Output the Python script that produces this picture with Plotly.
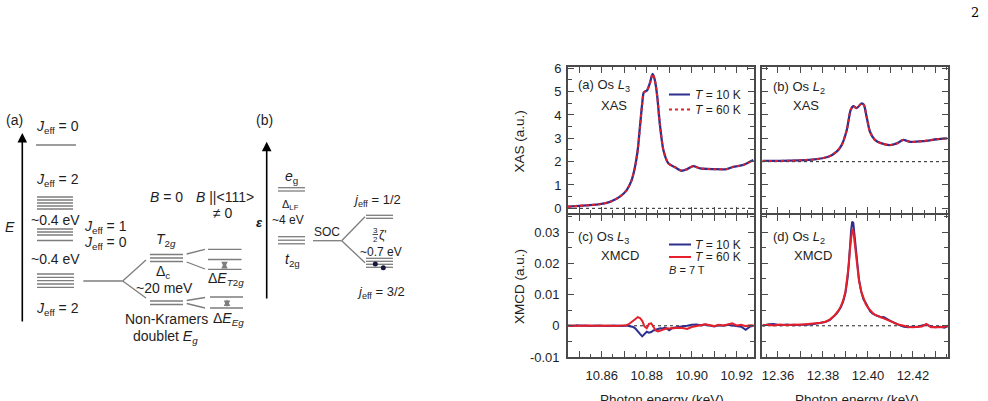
import numpy as np
import plotly.graph_objects as go

W, H = 988, 401
FONT = "Liberation Sans, Arial, Helvetica, sans-serif"
BLUE = "#2c2f8e"
RED = "#e5202a"
AX = "#4a4a4a"
GRAY = "#7d7d7d"
TXT = "#1e1e1e"

# ---------------- XAS data (a.u.) ----------------
e_L3_xas = [10.845, 10.8533, 10.8592, 10.8637, 10.8681, 10.8711, 10.8733, 10.8748, 10.876, 10.877,
            10.878, 10.8787, 10.8795, 10.8802, 10.8814, 10.8826, 10.8836, 10.8847, 10.8858, 10.8874,
            10.8896, 10.8926, 10.8955, 10.8978, 10.9007, 10.9037, 10.9096, 10.9156, 10.9185, 10.923, 10.9274]
xas_L3 = [0.07, 0.13, 0.18, 0.28, 0.5, 0.78, 1.21, 1.78, 2.5, 3.5,
          4.5, 4.97, 5.02, 5.06, 5.36, 5.76, 5.5, 4.78, 3.64, 2.5,
          1.93, 1.76, 1.61, 1.67, 1.81, 1.71, 1.68, 1.68, 1.78, 1.86, 2.07]

e_L2_xas = [12.3532, 12.3653, 12.3772, 12.3824, 12.3861, 12.3883, 12.3906, 12.3923, 12.3935, 12.395,
            12.3972, 12.3982, 12.3994, 12.4009, 12.4031, 12.4061, 12.4098, 12.4128, 12.4157, 12.4187,
            12.4246, 12.4306, 12.4353]
xas_L2 = [2.03, 2.04, 2.11, 2.21, 2.43, 2.71, 3.36, 4.21, 4.38, 4.29,
          4.5, 4.43, 3.93, 3.28, 2.93, 2.78, 2.71, 2.78, 2.93, 2.85,
          2.88, 2.96, 3.0]

# ---------------- XMCD data (units of 1e-3 a.u.) ----------------
e_L3_xmcd = [10.845, 10.847, 10.849, 10.851, 10.853, 10.855, 10.857, 10.859, 10.861, 10.863,
             10.865, 10.867, 10.869, 10.871, 10.872, 10.873, 10.874, 10.875, 10.876, 10.877,
             10.878, 10.879, 10.880, 10.881, 10.882, 10.883, 10.884, 10.885, 10.886, 10.887,
             10.888, 10.889, 10.890, 10.891, 10.892, 10.894, 10.896, 10.898, 10.900, 10.902,
             10.904, 10.906, 10.908, 10.910, 10.912, 10.914, 10.916, 10.918, 10.920, 10.922,
             10.924, 10.926, 10.9275]
xmcd_L3_10K_milli = [0.1, -0.1, 0.2, 0.0, 0.1, -0.1, 0.1, 0.0, 0.1, -0.1,
                     0.1, 0.0, -0.1, 0.1, 0.0, -0.1, -0.4, -0.9, -1.6, -2.6,
                     -3.4, -2.6, -1.9, -2.2, -2.0, -1.5, -1.3, -1.0, -0.8, -0.9,
                     -0.6, -0.9, -1.4, -0.9, -0.6, -0.4, -0.3, 0.0, 0.3, 0.4,
                     0.2, 0.4, 0.1, -0.2, 0.2, 0.0, 0.3, 0.1, 0.0, -0.3,
                     -1.3, -0.2, 0.0]
xmcd_L3_60K_milli = [0.0, 0.1, -0.1, 0.1, 0.0, 0.1, -0.1, 0.1, 0.0, 0.1,
                     -0.1, 0.0, 0.1, 0.2, 0.5, 1.0, 1.6, 2.2, 2.8, 2.5,
                     1.6, -0.2, -0.8, 0.6, 0.8, -0.2, -1.5, -1.8, -1.6, -1.2,
                     -1.0, -0.8, -0.9, -0.7, -0.8, -0.6, -0.7, -1.0, -0.4, 0.0,
                     0.2, 0.5, 0.2, -0.1, 0.3, 0.1, 0.4, 0.8, 0.1, 0.3,
                     -0.1, 0.2, 0.1]

e_L2_xmcd = [12.3532, 12.356, 12.358, 12.361, 12.364, 12.367, 12.370, 12.373, 12.376, 12.379,
             12.381, 12.383, 12.385, 12.386, 12.387, 12.388, 12.389, 12.390, 12.391, 12.3915,
             12.392, 12.3925, 12.393, 12.3935, 12.394, 12.3945, 12.395, 12.3955, 12.396, 12.397,
             12.398, 12.399, 12.400, 12.401, 12.402, 12.403, 12.404, 12.405, 12.406, 12.407,
             12.408, 12.409, 12.410, 12.411, 12.412, 12.413, 12.414, 12.416, 12.418, 12.420,
             12.422, 12.424, 12.426, 12.428, 12.430, 12.432, 12.434, 12.4356]
xmcd_L2_10K_milli = [0.0, 0.5, 0.6, 0.2, 0.4, 0.2, 0.3, 0.3, 0.6, 0.9,
                     1.2, 1.8, 3.0, 3.8, 4.8, 6.0, 7.8, 10.5, 15.5, 19.5,
                     25.0, 30.5, 33.4, 33.0, 29.5, 25.5, 21.5, 18.0, 15.0, 11.0,
                     8.5, 7.4, 6.0, 4.6, 4.0, 3.5, 3.2, 3.0, 2.7, 2.8,
                     2.5, 2.0, 1.6, 1.2, 0.9, 0.5, 0.2, -0.3, -0.5, -0.2,
                     -0.4, 0.1, 0.4, -0.2, -0.5, -0.3, -0.6, -0.1]
xmcd_L2_60K_milli = [0.2, 0.3, 0.1, 0.4, 0.2, 0.4, 0.3, 0.5, 0.7, 1.0,
                     1.3, 2.0, 3.2, 4.0, 5.0, 6.3, 8.2, 11.0, 16.0, 19.5,
                     24.5, 29.0, 31.0, 30.5, 27.5, 24.0, 20.5, 17.5, 14.5, 11.0,
                     8.8, 7.0, 5.8, 4.8, 4.2, 3.6, 3.3, 3.1, 2.9, 2.6,
                     2.3, 1.9, 1.5, 1.2, 0.8, 0.5, 0.3, 0.0, -0.4, -0.5,
                     -0.3, -0.2, 0.6, -0.5, -0.4, -0.5, -0.3, 0.0]

# ---------------- ticks ----------------
xticks_L3 = [10.85, 10.86, 10.87, 10.88, 10.89, 10.90, 10.91, 10.92]
xticklabels_L3 = ["", "10.86", "", "10.88", "", "10.90", "", "10.92"]
xticks_L2 = [12.36, 12.37, 12.38, 12.39, 12.40, 12.41, 12.42, 12.43]
xticklabels_L2 = ["12.36", "", "12.38", "", "12.40", "", "12.42", ""]
yticks_xas = [0, 1, 2, 3, 4, 5, 6]
yticks_xmcd = [-0.01, 0, 0.01, 0.02, 0.03]
yticklabels_xmcd = ["-0.01", "0", "0.01", "0.02", "0.03"]

# ---------------- level diagram (a) & (b) (diagram units) ----------------
lvl_a_J0_top = [145]
lvl_a_J2_up = [197, 200, 203, 206, 209]
lvl_a_J1_J0 = [229, 232, 235, 240.5]
lvl_a_J2_low = [274, 277.3, 280.6, 284, 287.3]
lvl_a_T2g = [254.5, 258, 261.5]
lvl_a_Eg = [301, 304.5]
lvl_a_T2g_B = [249.3, 259.5, 269.3]
lvl_a_Eg_B = [297, 308]
lvl_b_eg = [187.7, 191]
lvl_b_t2g = [236.7, 240.2, 243.8]
lvl_b_j12 = [215.3, 218.3]
lvl_b_j32 = [258.3, 261.3, 264.3, 267.3]

fig = go.Figure()

# XAS
for xa, ya, e, v in [("x", "y", e_L3_xas, xas_L3), ("x2", "y2", e_L2_xas, xas_L2)]:
    fig.add_trace(go.Scatter(x=e, y=v, xaxis=xa, yaxis=ya, mode="lines",
                             line=dict(color=BLUE, width=2.3, shape="spline", smoothing=0.7)))
    fig.add_trace(go.Scatter(x=e, y=v, xaxis=xa, yaxis=ya, mode="lines",
                             line=dict(color=RED, width=2.0, dash="dot", shape="spline", smoothing=0.7)))

# XMCD
m = 1e-3
for xa, ya, e, b, r in [("x3", "y3", e_L3_xmcd, xmcd_L3_10K_milli, xmcd_L3_60K_milli),
                         ("x4", "y4", e_L2_xmcd, xmcd_L2_10K_milli, xmcd_L2_60K_milli)]:
    fig.add_trace(go.Scatter(x=e, y=np.array(b) * m, xaxis=xa, yaxis=ya, mode="lines",
                             line=dict(color=BLUE, width=2.0)))
    fig.add_trace(go.Scatter(x=e, y=np.array(r) * m, xaxis=xa, yaxis=ya, mode="lines",
                             line=dict(color=RED, width=2.0)))

# Diagram level lines
def level_xy(groups):
    xs, ys = [], []
    for x0, x1, levels in groups:
        for lv in levels:
            xs += [x0, x1, None]
            ys += [lv, lv, None]
    return xs, ys

lx, ly = level_xy([(36, 76, lvl_a_J0_top), (37, 73, lvl_a_J2_up), (37, 73, lvl_a_J1_J0),
                   (37, 74, lvl_a_J2_low), (150, 183, lvl_a_T2g), (150, 183, lvl_a_Eg),
                   (208, 241.5, lvl_a_T2g_B), (210, 243, lvl_a_Eg_B),
                   (278, 305, lvl_b_eg), (278, 305, lvl_b_t2g),
                   (366, 393, lvl_b_j12), (366, 393, lvl_b_j32)])
fig.add_trace(go.Scatter(x=lx, y=ly, xaxis="x5", yaxis="y5", mode="lines",
                         line=dict(color=GRAY, width=1.3)))

conn_x = [83.3, 122.7, None, 122.7, 146, None, 122.7, 146, None,
          186.7, 205, None, 186.7, 205, None, 186.7, 205, None, 186.7, 205, None,
          313, 341.7, None, 341.7, 365, None, 341.7, 365]
conn_y = [281, 281, None, 281, 260, None, 281, 298, None,
          254, 249.3, None, 262, 269, None, 300.5, 297.5, None, 303.5, 308, None,
          240.7, 240.7, None, 240.7, 216.7, None, 240.7, 262.7]
fig.add_trace(go.Scatter(x=conn_x, y=conn_y, xaxis="x5", yaxis="y5", mode="lines",
                         line=dict(color=GRAY, width=1.3)))
# fraction bar for 3/2
fig.add_trace(go.Scatter(x=[372.5, 378], y=[234.5, 234.5], xaxis="x5", yaxis="y5", mode="lines",
                         line=dict(color=TXT, width=0.8)))
# electrons
fig.add_trace(go.Scatter(x=[375.3, 383.3], y=[264, 267.7], xaxis="x5", yaxis="y5", mode="markers",
                         marker=dict(color="#15183a", size=5)))

annotations = []

def dtext(text, x, y, size=14, **kw):
    d = dict(text=text, x=x, y=y, xref="x5", yref="y5", showarrow=False,
             font=dict(family=FONT, size=size, color=TXT), xanchor="center", yanchor="middle")
    d.update(kw)
    annotations.append(d)

J = "<i>J</i><sub>eff</sub>"
j = "<i>j</i><sub>eff</sub>"
dtext("(a)", 14, 120, 14)
dtext("<i>E</i>", 10, 227, 14)
dtext(J + " = 0", 57, 127)
dtext(J + " = 2", 57, 180)
dtext("~0.4 eV", 55, 220)
dtext(J + " = 1", 105, 227)
dtext(J + " = 0", 105, 243)
dtext("~0.4 eV", 55, 259)
dtext(J + " = 2", 57, 309)
dtext("<i>B</i> = 0", 166, 197)
dtext("<i>B</i> ||&lt;111&gt;", 225, 197)
dtext("≠ 0", 223, 213)
dtext("<i>T</i><sub>2<i>g</i></sub>", 166, 240)
dtext("Δ<sub>c</sub>", 163, 272)
dtext("~20 meV", 164, 288)
dtext("Δ<i>E</i><sub><i>T</i>2<i>g</i></sub>", 226, 279)
dtext("Non-Kramers", 166, 319)
dtext("Δ<i>E</i><sub><i>Eg</i></sub>", 228, 319)
dtext("doublet <i>E</i><sub><i>g</i></sub>", 165, 337)
dtext("(b)", 264, 120)
dtext("<b><i>ε</i></b>", 259, 222, 13)
dtext("<i>e</i><sub>g</sub>", 291, 177, 14)
dtext("Δ<sub>LF</sub>", 290, 205, 11)
dtext("~4 eV", 288, 220, 12)
dtext("<i>t</i><sub>2g</sub>", 292, 260, 14)
dtext("SOC", 327, 232, 12)
dtext(j + " = 1/2", 377, 200, 13)
dtext("3", 375.3, 230, 8)
dtext("2", 375.3, 239, 8)
dtext("ζ'", 383, 235, 12)
dtext("~0.7 eV", 381, 251.5, 12)
dtext(j + " = 3/2", 381, 292, 13)

# Arrows in diagram
annotations.append(dict(x=22.3, y=133, ax=22.3, ay=323, xref="x5", yref="y5", axref="x5", ayref="y5",
                        text="", showarrow=True, arrowhead=2, arrowsize=1.2, arrowwidth=1.6, arrowcolor="black"))
annotations.append(dict(x=266.7, y=141.7, ax=266.7, ay=300, xref="x5", yref="y5", axref="x5", ayref="y5",
                        text="", showarrow=True, arrowhead=2, arrowsize=1.2, arrowwidth=1.6, arrowcolor="black"))
for xx, y0, y1 in [(224.5, 260.5, 268.3), (227, 298, 307)]:
    annotations.append(dict(x=xx, y=y1, ax=xx, ay=y0, xref="x5", yref="y5", axref="x5", ayref="y5",
                            text="", showarrow=True, arrowhead=2, arrowside="end+start", arrowsize=1.3,
                            arrowwidth=1, arrowcolor=GRAY))

# panel texts (paper coordinates from pixel positions)
def ptext(text, px, py, size=13, xanchor="left", yanchor="middle", **kw):
    d = dict(text=text, x=px / W, y=1 - py / H, xref="paper", yref="paper", showarrow=False,
             font=dict(family=FONT, size=size, color=TXT), xanchor=xanchor, yanchor=yanchor)
    d.update(kw)
    annotations.append(d)

ptext("(a) Os <i>L</i><sub>3</sub>", 576, 86)
ptext("XAS", 599, 105)
ptext("(b) Os <i>L</i><sub>2</sub>", 771, 87)
ptext("XAS", 791, 105)
ptext("(c) Os <i>L</i><sub>3</sub>", 576, 237)
ptext("XMCD", 599, 255)
ptext("(d) Os <i>L</i><sub>2</sub>", 771, 237)
ptext("XMCD", 792, 255)
ptext("<i>T</i> = 10 K", 693, 94.5, 12)
ptext("<i>T</i> = 60 K", 693, 109.5, 12)
ptext("<i>T</i> = 10 K", 693, 244.5, 12)
ptext("<i>T</i> = 60 K", 693, 257, 12)
ptext("<i>B</i> = 7 T", 666.5, 269.5, 11)
ptext("XAS (a.u.)", 519, 141.5, 13.5, xanchor="center", textangle=-90)
ptext("XMCD (a.u.)", 519, 287, 13.5, xanchor="center", textangle=-90)
ptext("Photon energy (keV)", 661.5, 389.5, 13.5, xanchor="center", yanchor="top")
ptext("Photon energy (keV)", 857, 389.5, 13.5, xanchor="center", yanchor="top")
annotations.append(dict(text="2", x=975 / W, y=1 - 12 / H, xref="paper", yref="paper", showarrow=False,
                        font=dict(family="DejaVu Serif, Liberation Serif, serif", size=13, color="black"),
                        xanchor="center", yanchor="middle"))

shapes = []
def legline(px0, px1, py, color, dash="solid"):
    shapes.append(dict(type="line", xref="paper", yref="paper", x0=px0 / W, x1=px1 / W,
                       y0=1 - py / H, y1=1 - py / H, line=dict(color=color, width=2, dash=dash)))

legline(669, 690, 94.5, BLUE)
legline(669, 690, 109.5, RED, "dot")
legline(669, 691, 244.5, BLUE)
legline(669, 691, 257, RED)

for xr, yr, yv in [("x", "y", 0), ("x2", "y2", 2), ("x3", "y3", 0), ("x4", "y4", 0)]:
    shapes.append(dict(type="line", xref=xr + " domain", yref=yr, x0=0, x1=1, y0=yv, y1=yv,
                       line=dict(color="#222", width=1, dash="dot"), layer="below"))

xa_dom = [568 / W, 754 / W]
xb_dom = [762 / W, 948 / W]
ytop_dom = [1 - 213 / H, 1 - 67 / H]
ybot_dom = [1 - 357 / H, 1 - 215 / H]
range_L3 = [10.845, 10.9277]
range_L2 = [12.3529, 12.4356]
range_xas = [-0.2, 6.056]
range_xmcd = [-0.01, 0.0355]

def axis(**kw):
    d = dict(showline=True, linecolor=AX, linewidth=1.6, mirror="ticks", ticks="inside", ticklen=6,
             tickwidth=1.3, tickcolor=AX, showgrid=False, zeroline=False, fixedrange=True,
             tickfont=dict(family=FONT, size=13, color=TXT))
    d.update(kw)
    return d

minor_x = dict(ticks="inside", ticklen=3, tickwidth=1.2, tickcolor=AX, dtick=0.005, showgrid=False)
minor_xas = dict(ticks="inside", ticklen=4, tickwidth=1.2, tickcolor=AX, dtick=0.5, tick0=0, showgrid=False)
minor_xmcd = dict(ticks="inside", ticklen=4, tickwidth=1.2, tickcolor=AX, dtick=0.005, tick0=0, showgrid=False)

fig.update_layout(
    width=W, height=H, margin=dict(l=0, r=0, t=0, b=0, autoexpand=False),
    paper_bgcolor="white", plot_bgcolor="rgba(0,0,0,0)", showlegend=False,
    font=dict(family=FONT, size=13, color=TXT),
    xaxis=axis(domain=xa_dom, anchor="y", range=range_L3, tickmode="array", tickvals=xticks_L3,
               showticklabels=False, minor=dict(minor_x, tick0=10.845)),
    yaxis=axis(domain=ytop_dom, anchor="x", range=range_xas, tickmode="array", tickvals=yticks_xas,
               ticklabelstandoff=2, minor=minor_xas),
    xaxis2=axis(domain=xb_dom, anchor="y2", range=range_L2, tickmode="array", tickvals=xticks_L2,
                showticklabels=False, minor=dict(minor_x, tick0=12.355)),
    yaxis2=axis(domain=ytop_dom, anchor="x2", range=range_xas, tickmode="array", tickvals=yticks_xas,
                showticklabels=False, minor=minor_xas),
    xaxis3=axis(domain=xa_dom, anchor="y3", range=range_L3, tickmode="array", tickvals=xticks_L3,
                ticktext=xticklabels_L3, ticklabelstandoff=6, minor=dict(minor_x, tick0=10.845)),
    yaxis3=axis(domain=ybot_dom, anchor="x3", range=range_xmcd, tickmode="array", tickvals=yticks_xmcd,
                ticktext=yticklabels_xmcd, ticklabelstandoff=4, minor=minor_xmcd),
    xaxis4=axis(domain=xb_dom, anchor="y4", range=range_L2, tickmode="array", tickvals=xticks_L2,
                ticktext=xticklabels_L2, ticklabelstandoff=6, minor=dict(minor_x, tick0=12.355)),
    yaxis4=axis(domain=ybot_dom, anchor="x4", range=range_xmcd, tickmode="array", tickvals=yticks_xmcd,
                showticklabels=False, minor=minor_xmcd),
    xaxis5=dict(domain=[0, 1], anchor="y5", range=[0, W], visible=False, fixedrange=True),
    yaxis5=dict(domain=[0, 1], anchor="x5", range=[H, 0], visible=False, fixedrange=True),
    annotations=annotations, shapes=shapes,
)

fig.write_html("out.html")
